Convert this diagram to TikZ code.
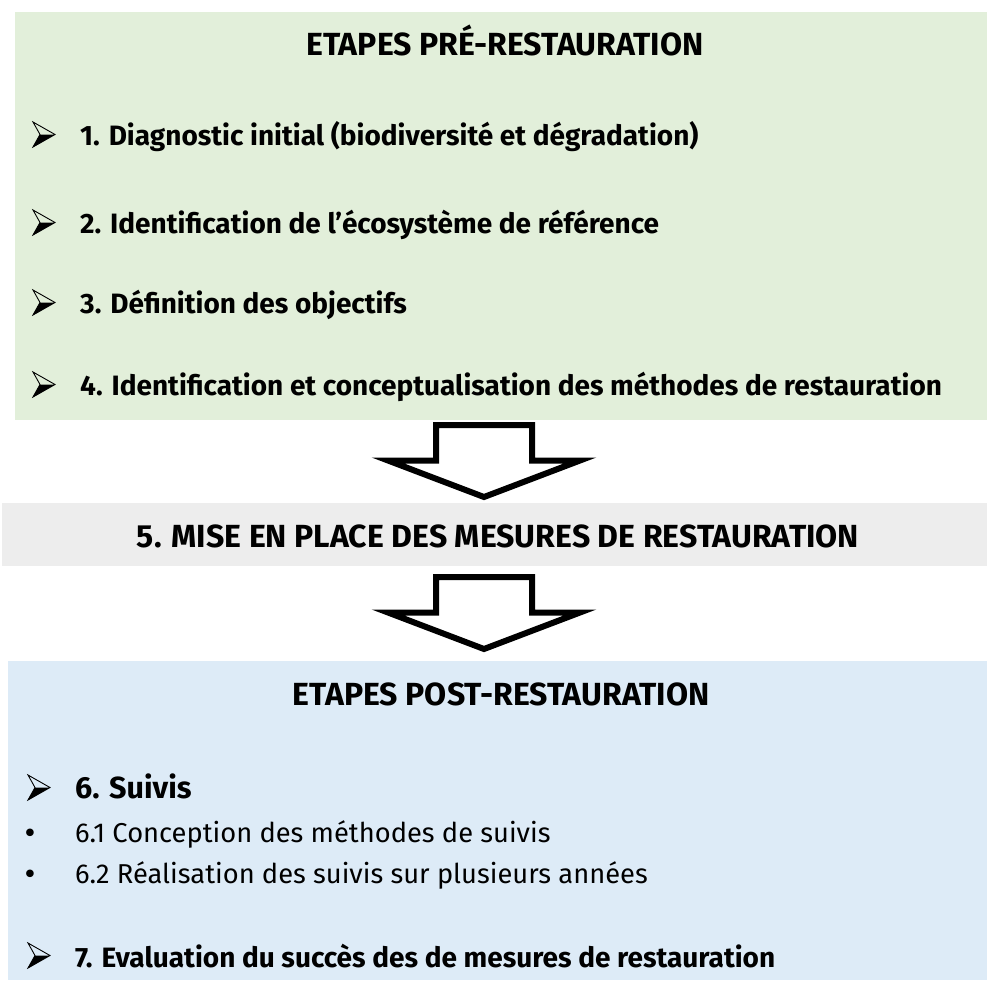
\documentclass[tikz,border=0pt]{standalone}
\usepackage{fontspec}
\setmainfont{Fira Sans}
\newfontfamily\symfont{DejaVu Sans}
\definecolor{preGreen}{HTML}{E2EFDA}
\definecolor{midGray}{HTML}{EDEDED}
\definecolor{postBlue}{HTML}{DDEBF7}
\tikzset{
  titletext/.style={inner sep=0pt, anchor=base, font=\fontsize{32}{36}\selectfont\bfseries},
  itemtext/.style={inner sep=0pt, anchor=base west, font=\fontsize{28}{32}\selectfont\bfseries},
  bodytext/.style={inner sep=0pt, anchor=base west, font=\fontsize{27.3}{31}\selectfont},
  dottext/.style={inner sep=0pt, anchor=base, font=\symfont\fontsize{26}{30}\selectfont},
  blockarrow/.style={draw=black, fill=white, line width=6pt, line join=miter},
  arrowbullet/.pic={
    \fill[black] (7,12.5) -- (22,12.5) -- (0,25) -- cycle;
    \draw[black, line width=0.9pt, line join=miter] (0,0) -- (22,12.5) -- (0,25) -- (7,12.5) -- cycle;
  }
}
\begin{document}
\begin{tikzpicture}[x=1pt,y=-1pt]
\useasboundingbox (0,0) rectangle (987,980);
% boxes
\fill[preGreen] (15,12) rectangle (987,420);
\fill[midGray] (2,503) rectangle (987,566);
\fill[postBlue] (8,661) rectangle (987,980);
% pre-restoration
\node[titletext] (t1) at (505,55) {ETAPES PRÉ-RESTAURATION};
\pic (b1) at (33,122) {arrowbullet};
\node[itemtext] (i1) at (80,145) {1. Diagnostic initial (biodiversité et dégradation)};
\pic (b2) at (33,210) {arrowbullet};
\node[itemtext] (i2) at (80,233) {2. Identification de l’écosystème de référence};
\pic (b3) at (33,290) {arrowbullet};
\node[itemtext] (i3) at (80,313) {3. Définition des objectifs};
\pic (b4) at (33,372) {arrowbullet};
\node[itemtext] (i4) at (80,395) {4. Identification et conceptualisation des méthodes de restauration};
% arrow 1
\draw[blockarrow] (436,425) -- (532,425) -- (532,460.5) -- (580,460.5) -- (484,497) -- (388,460.5) -- (436,460.5) -- cycle;
% mid
\node[titletext] (t2) at (498,547) {5. MISE EN PLACE DES MESURES DE RESTAURATION};
% arrow 2
\draw[blockarrow] (436,577) -- (532,577) -- (532,612.5) -- (580,612.5) -- (484,649) -- (388,612.5) -- (436,612.5) -- cycle;
% post
\node[titletext] (t3) at (501,705) {ETAPES POST-RESTAURATION};
\pic (b6) at (28,775) {arrowbullet};
\node[itemtext, font=\fontsize{30.5}{34}\selectfont\bfseries] (i6) at (75,798) {6. Suivis};
\node[dottext] (d61) at (30,842) {•};
\node[bodytext] (i61) at (75,842) {6.1 Conception des méthodes de suivis};
\node[dottext] (d62) at (30,883) {•};
\node[bodytext] (i62) at (75,883) {6.2 Réalisation des suivis sur plusieurs années};
\pic (b7) at (28,943) {arrowbullet};
\node[itemtext] (i7) at (75,967) {7. Evaluation du succès des de mesures de restauration};
\end{tikzpicture}
\end{document}
